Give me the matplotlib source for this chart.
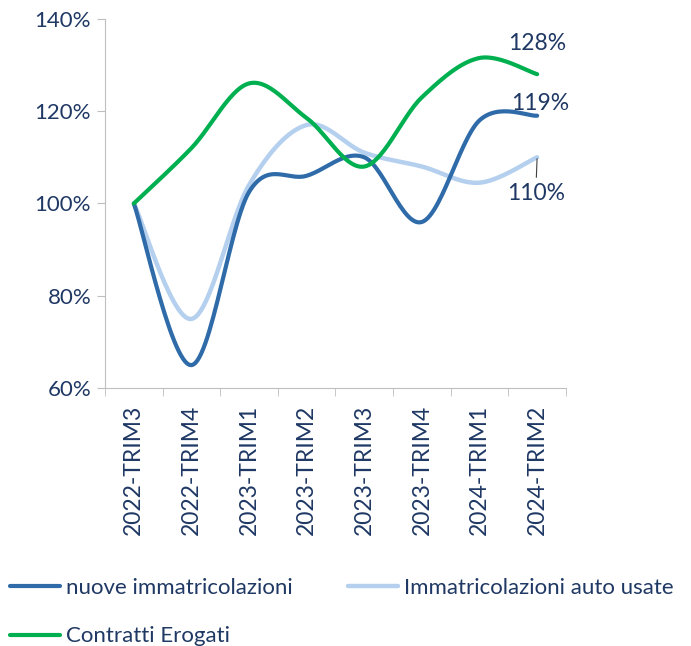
import numpy as np
import matplotlib
matplotlib.use("Agg")
import matplotlib.pyplot as plt
from matplotlib.ticker import FuncFormatter

# data (index, 2022-TRIM3 = 100%)
categories = ['2022-TRIM3', '2022-TRIM4', '2023-TRIM1', '2023-TRIM2',
              '2023-TRIM3', '2023-TRIM4', '2024-TRIM1', '2024-TRIM2']
nuove = [100, 65, 102.5, 106, 110, 96, 118, 119]
usate = [100, 75, 104, 117, 111, 108, 104.5, 110]
contratti = [100, 112, 126, 118.5, 108, 123, 131.5, 128]

navy = '#1F3864'
plt.rcParams['font.family'] = ['Lato', 'DejaVu Sans']


def smooth(y, n=30):
    # excel-like smoothed line (catmull-rom through the points)
    x = np.arange(len(y), dtype=float)
    y = np.asarray(y, dtype=float)
    xs, ys = [], []
    for i in range(len(y) - 1):
        i0, i3 = max(i - 1, 0), min(i + 2, len(y) - 1)
        p0, p1, p2, p3 = [np.array([x[k], y[k]]) for k in (i0, i, i + 1, i3)]
        c1 = p1 + (p2 - p0) / 6
        c2 = p2 - (p3 - p1) / 6
        t = np.linspace(0, 1, n)[:, None]
        pts = (1 - t)**3 * p1 + 3 * (1 - t)**2 * t * c1 + 3 * (1 - t) * t**2 * c2 + t**3 * p2
        xs.append(pts[:, 0]); ys.append(pts[:, 1])
    return np.concatenate(xs), np.concatenate(ys)


fig = plt.figure(figsize=(6.91, 6.46), dpi=100)
ax = fig.add_axes([0.152, 0.399, 0.667, 0.572])

l1, = ax.plot(*smooth(nuove), color='#2E6BA8', lw=3, solid_capstyle='round', zorder=3)
l2, = ax.plot(*smooth(usate), color='#B4D0EE', lw=3.2, solid_capstyle='round', zorder=2)
l3, = ax.plot(*smooth(contratti), color='#00B050', lw=3, solid_capstyle='round', zorder=4)

ax.set_xlim(-0.5, len(categories) - 0.5)
ax.set_ylim(60, 140)
ax.set_yticks(range(60, 141, 20))
ax.yaxis.set_major_formatter(FuncFormatter(lambda v, p: '%d%%' % v))
ax.set_xticks(range(len(categories)))
ax.set_xticklabels(categories, rotation=90)
ax.set_xticks(np.arange(-0.5, len(categories)), minor=True)
ax.tick_params(axis='x', which='major', length=0, pad=12, labelsize=16.5, labelcolor=navy)
ax.tick_params(axis='x', which='minor', length=6, color='#BFBFBF')
ax.tick_params(axis='y', length=6, color='#BFBFBF', labelsize=16, labelcolor=navy, pad=4)
for s in ['top', 'right']:
    ax.spines[s].set_visible(False)
for s in ['left', 'bottom']:
    ax.spines[s].set_color('#BFBFBF')

# end labels
last = len(categories) - 1
ax.annotate('%d%%' % round(contratti[-1]), (last, contratti[-1]), xytext=(0, 22),
            textcoords='offset points', ha='center', va='center', color=navy, fontsize=16.5)
ax.annotate('%d%%' % round(nuove[-1]), (last, nuove[-1]), xytext=(2, 9),
            textcoords='offset points', ha='center', va='center', color=navy, fontsize=16.5)
ax.annotate('%d%%' % round(usate[-1]), (last, usate[-1]), xytext=(-1, -26),
            textcoords='offset points', ha='center', va='center', color=navy, fontsize=16.5,
            arrowprops=dict(arrowstyle='-', color='#404040', lw=0.8, shrinkA=2, shrinkB=1))

fig.legend([l1, l3, l2], ['nuove immatricolazioni', 'Contratti Erogati',
                          'Immatricolazioni auto usate'],
           loc='upper left', bbox_to_anchor=(0.0145, 0.106), ncol=2, frameon=False,
           fontsize=16, labelcolor=navy, handlelength=2.25, handletextpad=0.27,
           columnspacing=2.5, labelspacing=1.3, borderaxespad=0, borderpad=0)

fig.savefig('out.png', dpi=100)
